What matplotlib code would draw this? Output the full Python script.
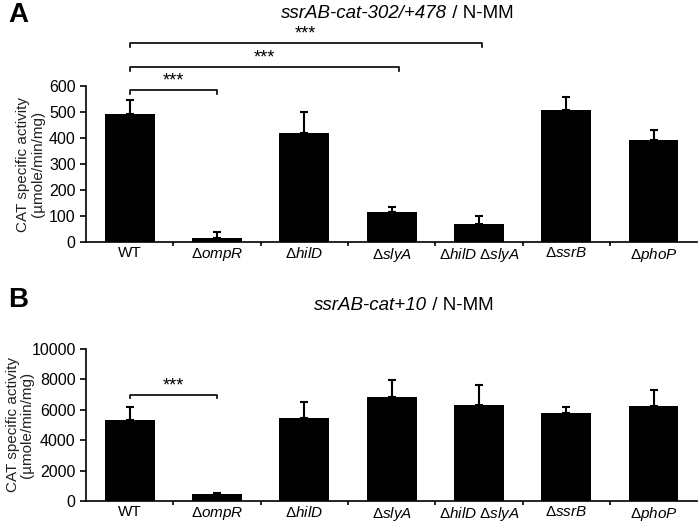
import numpy as np
import matplotlib
matplotlib.use("Agg")
import matplotlib.pyplot as plt

plt.rcParams['font.family'] = ['Liberation Sans', 'DejaVu Sans']
plt.rcParams['mathtext.fontset'] = 'custom'
plt.rcParams['mathtext.rm'] = 'Liberation Sans'
plt.rcParams['mathtext.it'] = 'Liberation Sans:italic'

# ---- data
labels = ['WT', r'Δ$\it{ompR}$', r'Δ$\it{hilD}$', r'Δ$\it{slyA}$',
          r'Δ$\it{hilD}$ Δ$\it{slyA}$', r'Δ$\it{ssrB}$', r'Δ$\it{phoP}$']
a_mean = [492, 17, 419, 115, 69, 508, 392]
a_err = [55, 21, 80, 20, 31, 50, 40]
b_mean = [5300, 420, 5450, 6820, 6330, 5780, 6250]
b_err = [870, 110, 1050, 1150, 1280, 380, 1030]
# (from, to, height, label)
a_sig = [(0, 1, 585, '***'), (0, 3.08, 672, '***'), (0, 4.03, 765, '***')]
b_sig = [(0, 1, 6950, '***')]

fig = plt.figure(figsize=(7, 5.25), dpi=100)
axA = fig.add_axes([0.123, 0.539, 0.873, 0.297])
axB = fig.add_axes([0.123, 0.046, 0.873, 0.289])


def draw(ax, mean, err, ymax, step, sig, drop, labx):
    x = np.arange(len(mean))
    ax.bar(x, mean, width=0.57, color='black', zorder=3)
    ax.errorbar(x, mean, yerr=[np.zeros(len(err)), err], fmt='none',
                ecolor='black', elinewidth=1.5, capsize=3, capthick=1.5, zorder=2)
    ax.set_xlim(-0.5, len(mean) - 0.5)
    ax.set_ylim(0, ymax)
    ax.set_yticks(np.arange(0, ymax + 1, step))
    ax.set_xticks(x)
    ax.set_xticklabels(labels, fontsize=11)
    ax.set_xticks(np.arange(0.5, len(mean) - 0.5, 1), minor=True)
    ax.tick_params(axis='x', which='major', length=0, pad=3)
    ax.tick_params(axis='x', which='minor', length=3, width=1.2, direction='out')
    ax.tick_params(axis='y', labelsize=11.5, length=4, width=1.2, direction='out')
    for s in ['top', 'right']:
        ax.spines[s].set_visible(False)
    for s in ['left', 'bottom']:
        ax.spines[s].set_linewidth(1.2)
        ax.spines[s].set_zorder(4)
    ax.set_ylabel('CAT specific activity\n(µmole/min/mg)', fontsize=11,
                  color='#222222', linespacing=1.05)
    ax.yaxis.set_label_coords(labx, 0.5)
    for x0, x1, h, t in sig:
        ax.plot([x0, x0, x1, x1], [h - drop, h, h, h - drop], color='black',
                lw=1.2, clip_on=False)
        ax.text((x0 + x1) / 2, h + drop * 0.2, t, ha='center', va='bottom',
                fontsize=13, clip_on=False)


draw(axA, a_mean, a_err, 600, 100, a_sig, 15, -0.068)
draw(axB, b_mean, b_err, 10000, 2000, b_sig, 200, -0.085)

# titles: italic construct + plain medium
fig.text(447 / 700, 1 - 13 / 525, 'ssrAB-cat-302/+478', style='italic',
         ha='right', va='center', fontsize=13.5)
fig.text(447 / 700, 1 - 13 / 525, ' / N-MM', ha='left', va='center', fontsize=13.5)
fig.text(427 / 700, 1 - 306 / 525, 'ssrAB-cat+10', style='italic',
         ha='right', va='center', fontsize=13.5)
fig.text(427 / 700, 1 - 306 / 525, ' / N-MM', ha='left', va='center', fontsize=13.5)

fig.text(0.012, 1 - 15 / 525, 'A', fontsize=20, fontweight='bold', va='center')
fig.text(0.012, 1 - 300 / 525, 'B', fontsize=20, fontweight='bold', va='center')

fig.savefig('out.png', dpi=100)
